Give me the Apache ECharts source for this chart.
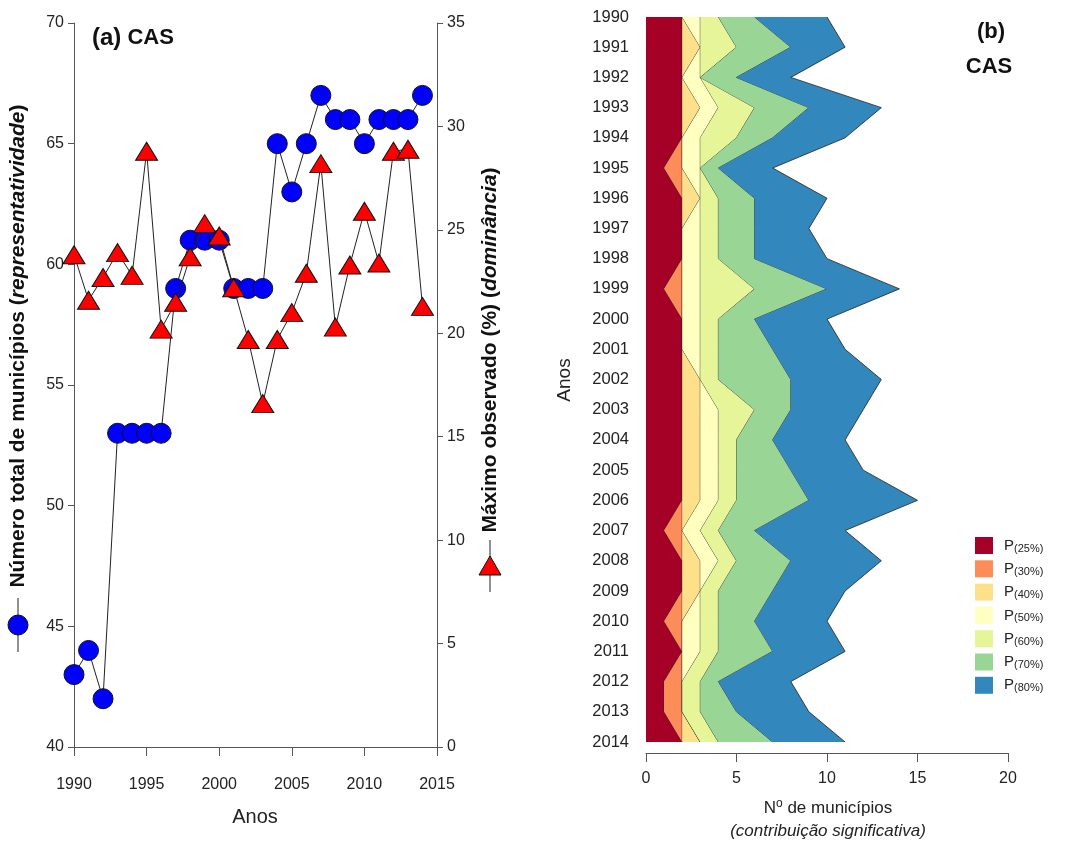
<!DOCTYPE html>
<html>
<head>
<meta charset="utf-8">
<script src="https://cdn.jsdelivr.net/npm/echarts@6/dist/echarts.min.js"></script>
<style>
html,body{margin:0;padding:0;background:#fff;}
#c{width:1073px;height:844px;}
</style>
</head>
<body>
<div id="c"></div>
<script>
// ---------- Panel (a) data ----------
const yearsA = [1990,1991,1992,1993,1994,1995,1996,1997,1998,1999,2000,2001,2002,2003,2004,2005,2006,2007,2008,2009,2010,2011,2012,2013,2014];
const totalMunicipios = [43,44,42,53,53,53,53,59,61,61,61,59,59,59,65,63,65,67,66,66,65,66,66,66,67];
const maximoObservado = [23.8,21.6,22.7,23.9,22.8,28.8,20.2,21.5,23.7,25.3,24.7,22.2,19.7,16.6,19.7,21.0,22.9,28.2,20.3,23.3,25.9,23.4,28.8,28.9,21.3];
const xTicksA = [1990,1995,2000,2005,2010,2015];

// ---------- Panel (b) data ----------
const yearsB = ['1990','1991','1992','1993','1994','1995','1996','1997','1998','1999','2000','2001','2002','2003','2004','2005','2006','2007','2008','2009','2010','2011','2012','2013','2014'];
const layerNames = ['P(25%)','P(30%)','P(40%)','P(50%)','P(60%)','P(70%)','P(80%)'];
const P25 = [2,2,2,2,2,1,2,2,2,1,2,2,2,2,2,2,2,1,2,2,1,2,1,1,2];
const P30 = [0,0,0,0,0,1,0,0,0,1,0,0,0,0,0,0,0,1,0,0,1,0,1,1,0];
const P40 = [0,1,0,1,0,0,1,0,0,0,0,0,1,1,1,1,1,0,1,1,0,0,0,0,1];
const P50 = [1,0,1,1,1,1,0,1,1,1,1,1,0,1,1,1,1,1,1,0,1,1,0,0,0];
const P60 = [1,2,0,2,2,0,1,1,1,3,1,1,1,2,1,1,1,1,1,1,1,1,1,1,1];
const P70 = [2,3,2,3,2,1,2,2,2,4,2,3,4,2,2,3,4,2,3,3,2,3,1,2,3];
const P80 = [4,3,3,4,4,3,4,3,4,4,4,4,5,4,4,4,6,5,5,4,4,4,4,4,4];
const layers = [P25,P30,P40,P50,P60,P70,P80];
const layerColors = ['#a50026','#fc8d59','#fee08b','#ffffbf','#e6f598','#99d594','#3288bd'];

const FF = 'Liberation Sans, Arial, sans-serif';
const TXT = '#222';
const AX = '#555';

const chart = echarts.init(document.getElementById('c'), null, {renderer:'canvas'});

const stackSeries = layers.map((arr, i) => ({
  name: layerNames[i],
  type: 'line',
  xAxisIndex: 1,
  yAxisIndex: 2,
  stack: 'total',
  data: arr,
  symbol: 'none',
  showSymbol: false,
  smooth: false,
  itemStyle: {color: layerColors[i]},
  lineStyle: {color: 'rgba(40,40,40,0.85)', width: 1},
  areaStyle: {color: layerColors[i], opacity: 1},
  z: 2 + i * 0.01
}));

const option = {
  animation: false,
  backgroundColor: '#fff',
  textStyle: {fontFamily: FF},
  grid: [
    {left: 74, right: 636, top: 23, bottom: 97},
    {left: 646, right: 65, top: 17, bottom: 102}
  ],
  xAxis: [
    {
      type: 'value', gridIndex: 0, min: 1990, max: 2015, interval: 5, offset: 10,
      axisLine: {show: true, lineStyle: {color: AX, width: 1}},
      axisTick: {show: true, inside: false, length: 9, lineStyle: {color: AX}},
      axisLabel: {fontSize: 16, color: TXT, margin: 20, fontFamily: FF,
        formatter: v => xTicksA.indexOf(v) >= 0 ? String(v) : ''},
      splitLine: {show: false}
    },
    {
      type: 'value', gridIndex: 1, min: 0, max: 20, interval: 5, offset: 11,
      axisLine: {show: true, lineStyle: {color: AX, width: 1}},
      axisTick: {show: true, length: 9, lineStyle: {color: AX}},
      axisLabel: {fontSize: 16, color: TXT, margin: 18, fontFamily: FF},
      splitLine: {show: false}
    }
  ],
  yAxis: [
    {
      type: 'value', gridIndex: 0, min: 40, max: 70, interval: 5, position: 'left',
      axisLine: {show: true, lineStyle: {color: AX, width: 1}},
      axisTick: {show: true, length: 6, lineStyle: {color: AX}},
      axisLabel: {fontSize: 16, color: TXT, margin: 10, fontFamily: FF},
      splitLine: {show: false}
    },
    {
      type: 'value', gridIndex: 0, min: 0, max: 35, interval: 5, position: 'right',
      axisLine: {show: true, lineStyle: {color: AX, width: 1}},
      axisTick: {show: true, length: 6, lineStyle: {color: AX}},
      axisLabel: {fontSize: 16, color: TXT, margin: 10, fontFamily: FF},
      splitLine: {show: false}
    },
    {
      type: 'category', gridIndex: 1, data: yearsB, inverse: true, boundaryGap: false,
      axisLine: {show: true, lineStyle: {color: '#bbb', width: 1}},
      axisTick: {show: false},
      axisLabel: {fontSize: 16.5, color: TXT, margin: 17, fontFamily: FF, interval: 0},
      splitLine: {show: false}
    }
  ],
  legend: {
    data: layerNames.map(n => ({name: n, icon: 'rect'})),
    orient: 'vertical',
    left: 975, top: 537,
    padding: 0,
    itemWidth: 18, itemHeight: 17, itemGap: 6.3,
    selectedMode: false,
    formatter: n => '{p|P}{s|' + n.slice(1) + '}',
    textStyle: {
      color: TXT, fontFamily: FF,
      rich: {
        p: {fontSize: 15, color: TXT, fontFamily: FF, lineHeight: 17, verticalAlign: 'middle', padding: [0, 0, 0, 6]},
        s: {fontSize: 11, color: TXT, fontFamily: FF, lineHeight: 9, verticalAlign: 'bottom'}
      }
    }
  },
  series: [
    {
      name: 'Número total de municípios',
      type: 'line', xAxisIndex: 0, yAxisIndex: 0,
      data: yearsA.map((y, i) => [y, totalMunicipios[i]]),
      symbol: 'circle', symbolSize: 20,
      itemStyle: {color: '#0000ff', borderColor: '#111', borderWidth: 1},
      lineStyle: {color: '#222', width: 1},
      z: 3
    },
    {
      name: 'Máximo observado (%)',
      type: 'line', xAxisIndex: 0, yAxisIndex: 1,
      data: yearsA.map((y, i) => [y, maximoObservado[i]]),
      symbol: 'triangle', symbolSize: [22, 18],
      itemStyle: {color: '#ff0000', borderColor: '#111', borderWidth: 1},
      lineStyle: {color: '#222', width: 1},
      z: 4
    }
  ].concat(stackSeries),
  graphic: [
    // panel (a) label
    {type: 'text', x: 92, y: 38, style: {text: '{a|(a)}{b| CAS}', verticalAlign: 'middle', rich: {
      a: {fontSize: 24, fontWeight: 'bold', fill: '#111', fontFamily: FF},
      b: {fontSize: 22, fontWeight: 'bold', fill: '#111', fontFamily: FF}}}},
    // x title (a)
    {type: 'text', x: 255, y: 817, style: {text: 'Anos', fontSize: 20, fill: TXT, fontFamily: FF, align: 'center', verticalAlign: 'middle'}},
    // left y title with legend symbol
    {type: 'line', shape: {x1: 18, y1: 598, x2: 18, y2: 652}, style: {stroke: '#222', lineWidth: 1}},
    {type: 'circle', shape: {cx: 18, cy: 625, r: 10}, style: {fill: '#0000ff', stroke: '#111', lineWidth: 1}},
    {type: 'text', x: 18, y: 346, rotation: Math.PI / 2, style: {
      text: '{b|Número total de municípios (}{i|representatividade}{b|)}',
      align: 'center', verticalAlign: 'middle',
      rich: {
        b: {fontSize: 21, fontWeight: 'bold', fill: '#111', fontFamily: FF},
        i: {fontSize: 21, fontWeight: 'bold', fontStyle: 'italic', fill: '#111', fontFamily: FF}
      }}},
    // right y title with legend symbol
    {type: 'line', shape: {x1: 490, y1: 540, x2: 490, y2: 592}, style: {stroke: '#222', lineWidth: 1}},
    {type: 'polygon', shape: {points: [[479, 575], [501, 575], [490, 556]]}, style: {fill: '#ff0000', stroke: '#111', lineWidth: 1}},
    {type: 'text', x: 490, y: 350, rotation: Math.PI / 2, style: {
      text: '{b|Máximo observado (%) (}{i|dominância}{b|)}',
      align: 'center', verticalAlign: 'middle',
      rich: {
        b: {fontSize: 21, fontWeight: 'bold', fill: '#111', fontFamily: FF},
        i: {fontSize: 21, fontWeight: 'bold', fontStyle: 'italic', fill: '#111', fontFamily: FF}
      }}},
    // panel (b) labels
    {type: 'text', x: 991, y: 32, style: {text: '(b)', fontSize: 22, fontWeight: 'bold', fill: '#111', fontFamily: FF, align: 'center', verticalAlign: 'middle'}},
    {type: 'text', x: 989, y: 67, style: {text: 'CAS', fontSize: 22, fontWeight: 'bold', fill: '#111', fontFamily: FF, align: 'center', verticalAlign: 'middle'}},
    {type: 'text', x: 565, y: 380, rotation: Math.PI / 2, style: {text: 'Anos', fontSize: 19, fill: TXT, fontFamily: FF, align: 'center', verticalAlign: 'middle'}},
    {type: 'text', x: 828, y: 808, style: {
      text: '{n|N}{o|o}{n| de municípios}', align: 'center', verticalAlign: 'middle',
      rich: {
        n: {fontSize: 17, fill: TXT, fontFamily: FF, lineHeight: 20, verticalAlign: 'middle'},
        o: {fontSize: 12, fill: TXT, fontFamily: FF, lineHeight: 12, verticalAlign: 'top'}
      }}},
    {type: 'text', x: 828, y: 831, style: {text: '(contribuição significativa)', fontSize: 17, fontStyle: 'italic', fill: TXT, fontFamily: FF, align: 'center', verticalAlign: 'middle'}}
  ]
};

chart.setOption(option);
</script>
</body>
</html>
